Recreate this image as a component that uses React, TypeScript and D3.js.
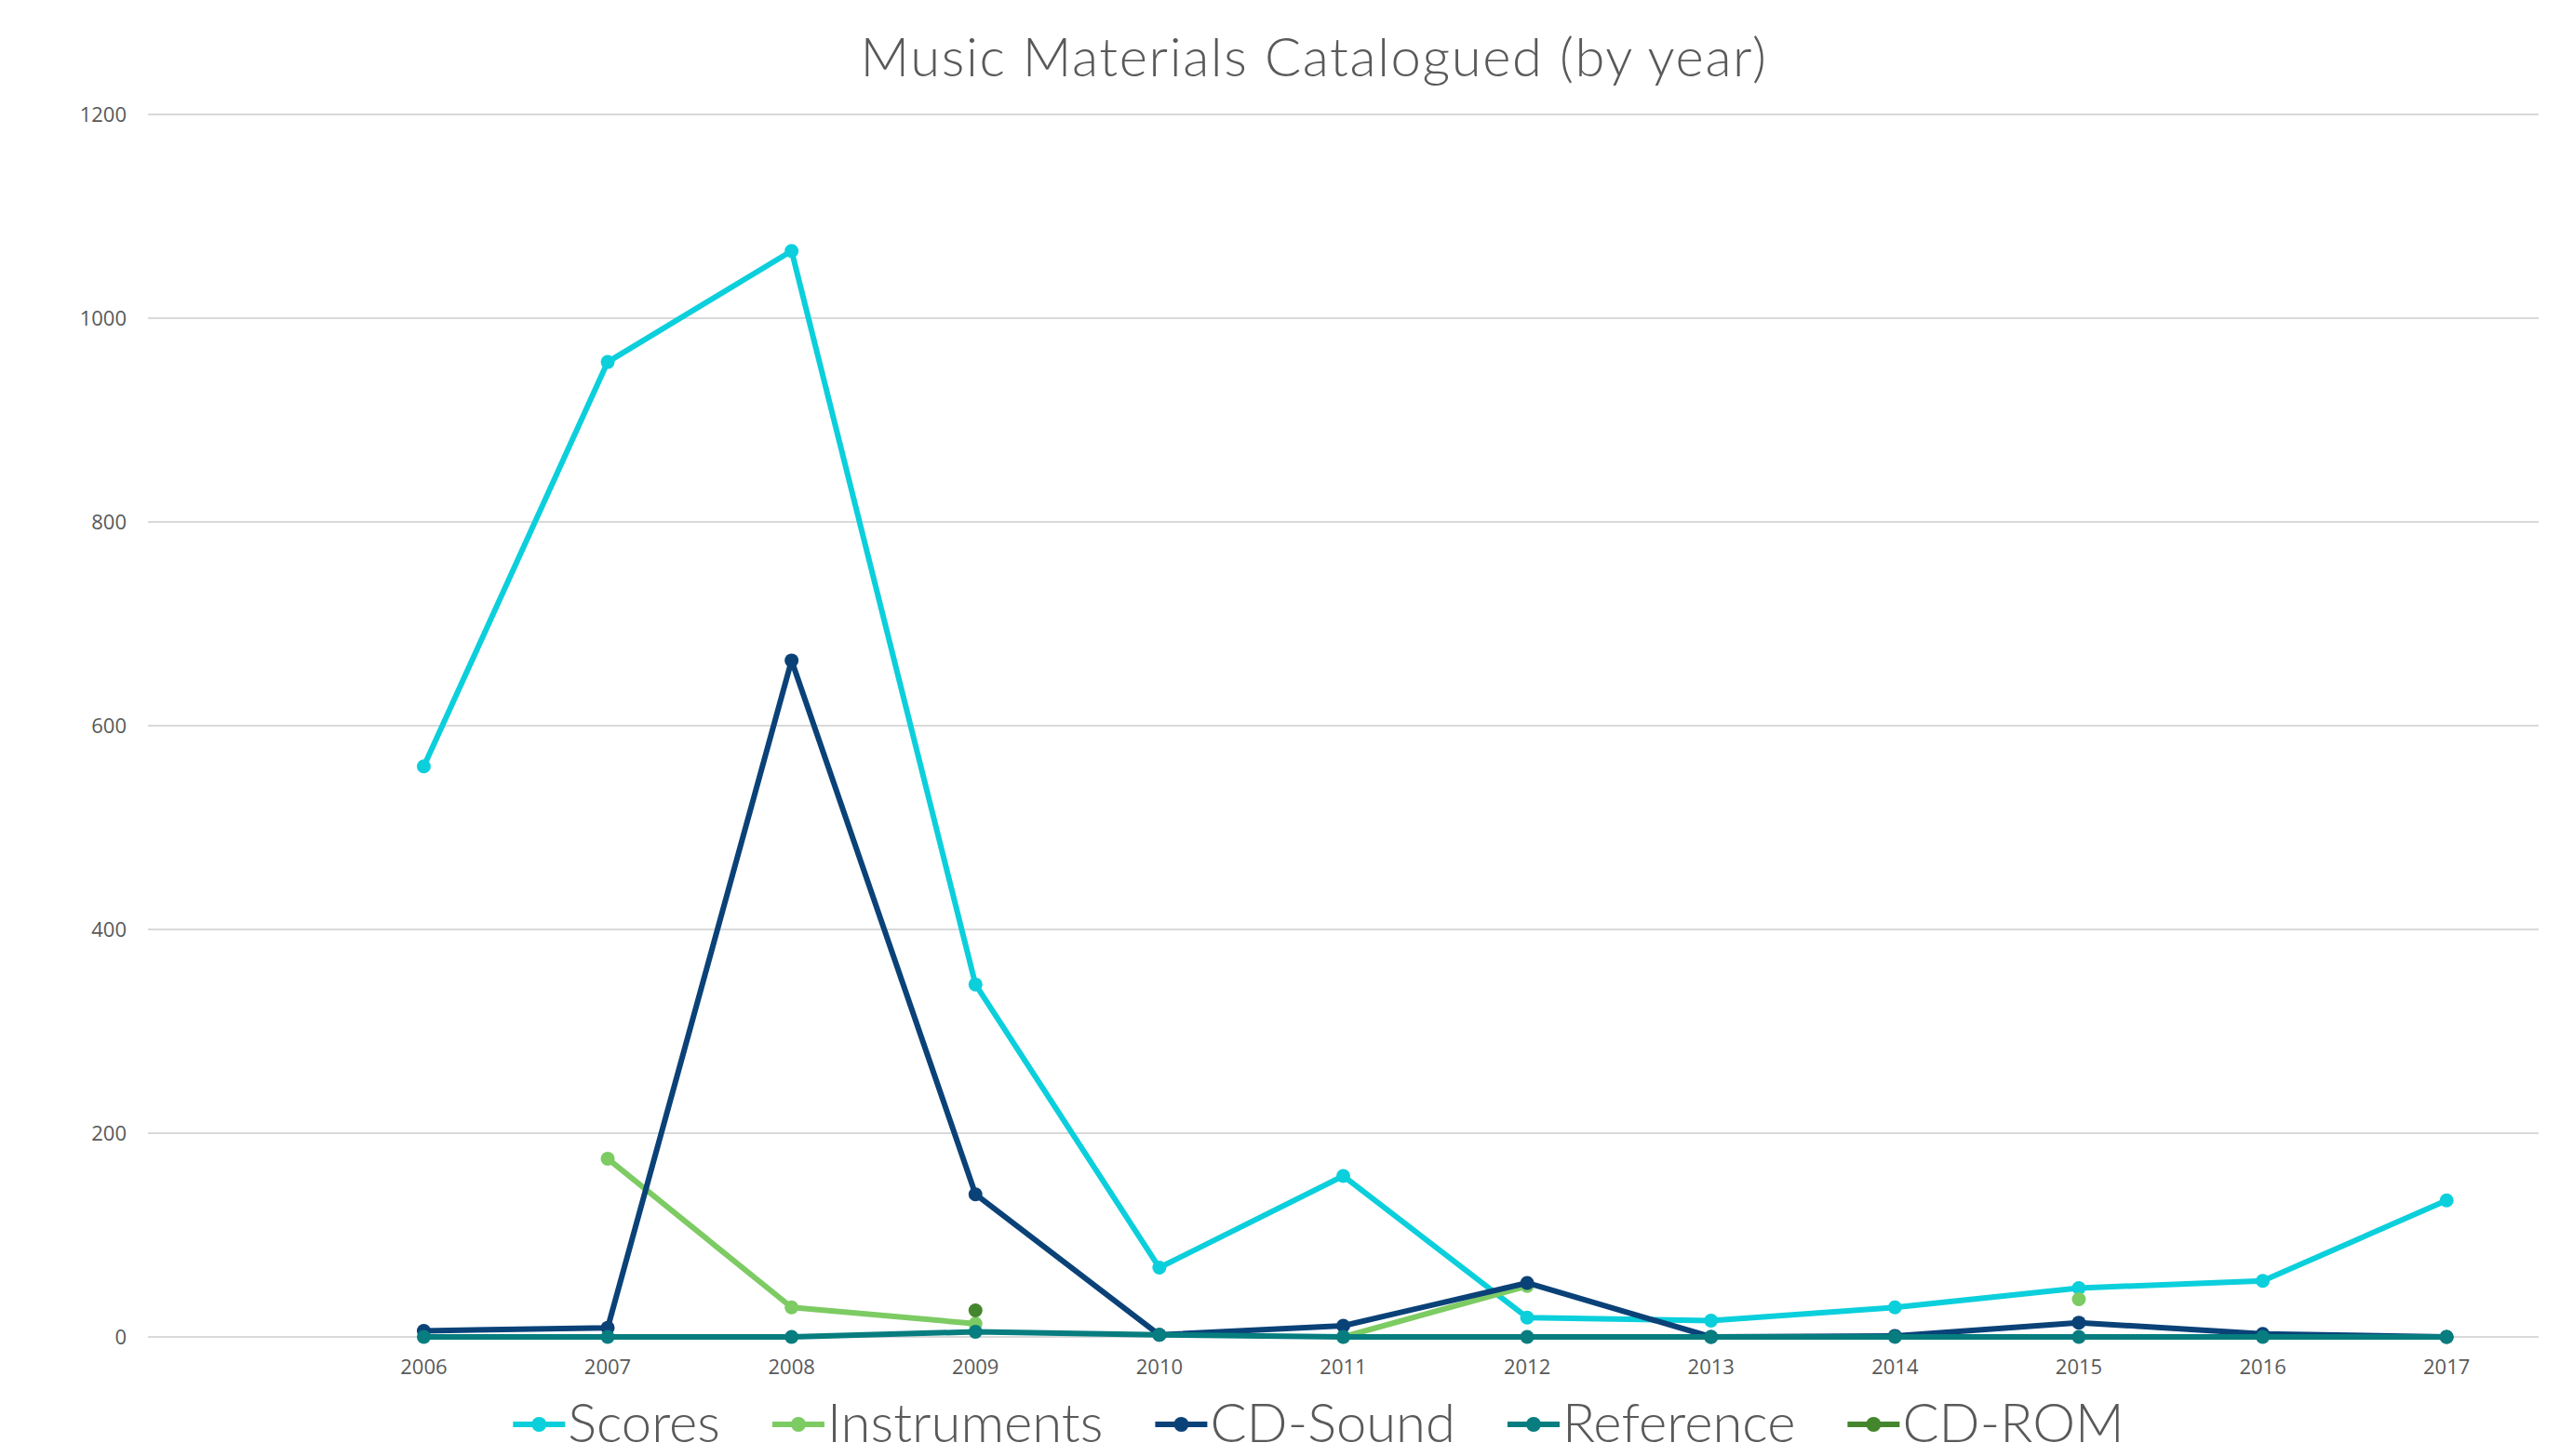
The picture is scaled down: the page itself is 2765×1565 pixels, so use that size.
import React, { useEffect, useRef } from 'react';
import * as d3 from 'd3';

// values
const years = ['2006', '2007', '2008', '2009', '2010', '2011', '2012', '2013', '2014', '2015', '2016', '2017'];
const scores = [560, 957, 1066, 346, 68, 158, 19, 16, 29, 48, 55, 134];
const instruments = [null, 175, 29, 13, null, 0, 50, null, null, 37, null, null];
const cdSound = [6, 9, 664, 140, 2, 11, 53, 0, 1, 14, 3, 0];
const reference = [0, 0, 0, 5, 2, 0, 0, 0, 0, 0, 0, 0];
const cdRom = [null, null, null, 26, null, null, null, null, null, null, null, null];
const yTicks = [0, 200, 400, 600, 800, 1000, 1200];

const seriesNames = ['Scores', 'Instruments', 'CD-Sound', 'Reference', 'CD-ROM'];
const seriesColors = ['#0ccfdc', '#7dcb63', '#0a4278', '#077d7f', '#44862d'];

const W = 2765;
const H = 1565;

const App: React.FC = () => {
  const svgRef = useRef<SVGSVGElement>(null);

  useEffect(() => {
    if (!svgRef.current) return;
    const svg = d3.select(svgRef.current);
    svg.selectAll('*').remove();

    const margin = { top: 123, right: 37, bottom: 128, left: 159 };
    const series = [scores, instruments, cdSound, reference, cdRom];

    // first band is left empty, like the original
    const x = d3.scaleBand<string>()
      .domain(['', ...years])
      .range([margin.left, W - margin.right])
      .padding(0);
    const cx = (yr: string) => (x(yr) || 0) + x.bandwidth() / 2;

    const y = d3.scaleLinear()
      .domain([0, 1200])
      .range([H - margin.bottom, margin.top]);

    // gridlines
    svg.append('g')
      .selectAll('line')
      .data(yTicks)
      .enter().append('line')
      .attr('x1', margin.left)
      .attr('x2', W - margin.right)
      .attr('y1', d => y(d))
      .attr('y2', d => y(d))
      .style('stroke', '#d9d9d9')
      .style('stroke-width', 2);

    // y labels
    svg.append('g')
      .selectAll('text')
      .data(yTicks)
      .enter().append('text')
      .attr('x', 136)
      .attr('y', d => y(d) + 8)
      .style('text-anchor', 'end')
      .style('font-family', '"Open Sans", sans-serif')
      .style('font-size', '22px')
      .style('fill', '#595959')
      .text(d => d);

    // x labels
    svg.append('g')
      .selectAll('text')
      .data(years)
      .enter().append('text')
      .attr('x', d => cx(d))
      .attr('y', y(0) + 40)
      .style('text-anchor', 'middle')
      .style('font-family', '"Open Sans", sans-serif')
      .style('font-size', '22px')
      .style('fill', '#595959')
      .text(d => d);

    // lines + markers
    const line = d3.line<number | null>()
      .defined(d => d !== null)
      .x((_d, i) => cx(years[i]))
      .y(d => y(d as number));

    series.forEach((vals, si) => {
      const g = svg.append('g');
      g.append('path')
        .datum(vals)
        .attr('d', line)
        .style('fill', 'none')
        .style('stroke', seriesColors[si])
        .style('stroke-width', 6)
        .style('stroke-linejoin', 'round')
        .style('stroke-linecap', 'round');
      g.selectAll('circle')
        .data(vals.map((v, i) => ({ v, yr: years[i] })).filter(d => d.v !== null))
        .enter().append('circle')
        .attr('cx', d => cx(d.yr))
        .attr('cy', d => y(d.v as number))
        .attr('r', 7.5)
        .style('fill', seriesColors[si]);
    });

    // title
    svg.append('text')
      .attr('x', 1412)
      .attr('y', 82)
      .style('text-anchor', 'middle')
      .style('font-family', 'Lato, sans-serif')
      .style('font-weight', 300)
      .style('font-size', '58px')
      .style('letter-spacing', '1.6px')
      .style('fill', '#595959')
      .text('Music Materials Catalogued (by year)');

    // legend
    const legend = svg.append('g');
    const legendY = 1531;
    const lineLen = 56;
    const gap = 56;
    let cursor = 0;
    seriesNames.forEach((name, i) => {
      const item = legend.append('g');
      item.append('line')
        .attr('x1', 0).attr('x2', lineLen)
        .attr('y1', legendY).attr('y2', legendY)
        .style('stroke', seriesColors[i])
        .style('stroke-width', 6);
      item.append('circle')
        .attr('cx', lineLen / 2).attr('cy', legendY).attr('r', 8)
        .style('fill', seriesColors[i]);
      const t = item.append('text')
        .attr('x', lineLen + 3)
        .attr('y', legendY + 19)
        .style('font-family', 'Lato, sans-serif')
        .style('font-weight', 300)
        .style('font-size', '58px')
        .style('fill', '#595959')
        .text(name);
      const w = lineLen + 3 + (t.node() as SVGTextElement).getComputedTextLength();
      item.attr('transform', `translate(${cursor}, 0)`);
      cursor += w + gap;
    });
    const total = cursor - gap;
    legend.attr('transform', `translate(${1417 - total / 2}, 0)`);
  }, []);

  return (
    <svg
      ref={svgRef}
      width={W}
      height={H}
      style={{ position: 'absolute', left: 0, top: 0, background: '#fff' }}
    />
  );
};

export default App;
